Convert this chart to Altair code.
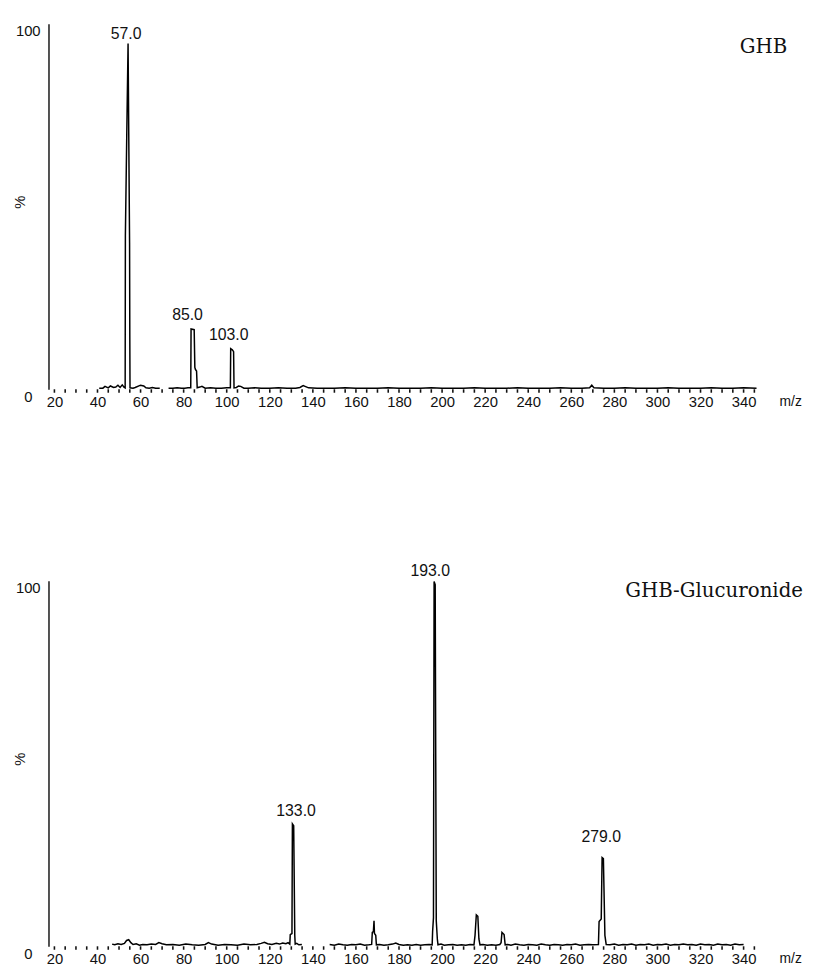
import altair as alt
import pandas as pd

# ---------------- GHB spectrum (top) ----------------
ghb_a_mz = [40.8, 42.5, 43.5, 45.0, 46.0, 47.5, 48.5, 49.5, 50.5, 51.5, 52.3, 52.85, 52.95,
            53.6, 54.2, 54.9, 55.0, 55.1, 56.5, 57.5, 59.5, 60.0, 61.5, 62.5, 64.0, 65.5, 67.0, 68.9]
ghb_a_int = [0.3, 0.3, 0.8, 0.4, 0.9, 0.5, 0.6, 1.1, 0.5, 1.2, 0.6, 0.4, 42.0,
             70.0, 94.6, 40.0, 15.0, 0.4, 0.3, 0.5, 1.0, 1.1, 0.9, 0.4, 0.3, 0.5, 0.3, 0.3]

ghb_b_mz = [73, 75, 77, 79, 80.5, 82, 83.3, 83.45, 84.9, 85.2, 85.5, 86.0, 86.3, 87.5, 88.5, 90,
            92.5, 95, 97.5, 100, 101.7, 101.85, 102.6, 103.2, 103.4, 104.5, 105.5, 106.5, 108,
            110, 113, 116, 120, 124, 128, 132, 134, 135.5, 138, 142, 146, 150, 155, 160, 165,
            170, 175, 180, 185, 190, 195, 200, 205, 210, 215, 220, 225, 230, 235, 240, 245, 250,
            255, 260, 265, 268.5, 269.5, 270.5, 275, 280, 285, 290, 295, 300, 305, 310, 315, 320,
            325, 330, 335, 340, 346]
ghb_b_int = [0.3, 0.3, 0.4, 0.3, 0.3, 0.4, 0.4, 16.5, 16.3, 6.0, 5.4, 5.0, 0.4, 0.6, 0.8, 0.3,
             0.4, 0.3, 0.3, 0.4, 0.4, 11.1, 10.8, 10.3, 0.4, 0.5, 0.9, 0.8, 0.3,
             0.3, 0.4, 0.3, 0.3, 0.4, 0.3, 0.3, 0.5, 1.0, 0.4, 0.3, 0.3, 0.3, 0.4, 0.3, 0.3,
             0.3, 0.4, 0.3, 0.3, 0.3, 0.4, 0.3, 0.3, 0.3, 0.4, 0.3, 0.3, 0.3, 0.4, 0.3, 0.3, 0.3,
             0.4, 0.3, 0.3, 0.4, 1.1, 0.4, 0.3, 0.3, 0.4, 0.3, 0.3, 0.3, 0.4, 0.3, 0.3, 0.3,
             0.4, 0.3, 0.3, 0.4, 0.3]

ghb_lbl = ["57.0", "85.0", "103.0"]
ghb_lbl_mz = [53.3, 81.8, 100.9]
ghb_lbl_int = [95.9, 18.9, 13.5]

# ---------------- GHB-Glucuronide spectrum (bottom) ----------------
glu_a_mz = [46.8, 48, 49.5, 51, 52.5, 53.5, 54.5, 55.5, 56.5, 58, 59.5, 61, 63, 65, 67, 68.5,
            70, 72, 75, 78, 81, 84, 87, 90, 91.5, 93, 96, 99, 102, 105, 108, 111, 114, 116,
            117.5, 119, 121, 123, 124.5, 126, 127.5, 128.5, 129.3, 129.5, 130.3, 130.5, 131.1,
            131.6, 131.8, 132.5, 133.5, 134.9]
glu_a_int = [0.6, 0.4, 0.7, 0.5, 0.8, 1.6, 1.8, 1.0, 0.5, 0.7, 0.3, 0.5, 0.4, 0.6, 0.5, 1.0,
             0.7, 0.4, 0.5, 0.3, 0.6, 0.4, 0.3, 0.5, 1.0, 0.6, 0.3, 0.5, 0.4, 0.3, 0.6, 0.4, 0.5,
             0.8, 1.1, 0.7, 0.5, 0.8, 0.6, 0.9, 0.7, 1.0, 0.6, 3.2, 3.5, 33.5, 33.0, 3.0, 0.6,
             0.8, 0.4, 0.5]

glu_b_mz = [147.8, 150, 152, 154, 156, 158, 160, 162, 164, 166, 167.3, 167.6, 168.1, 168.4,
            168.6, 169.2, 169.5, 171, 173, 175, 177, 178.5, 180, 182, 184, 186, 188, 190, 192,
            194, 195.4, 195.6, 196.0, 196.3, 196.8, 197.3, 197.8, 198.1, 199.5, 201, 203, 205,
            207, 209, 211, 213, 214.8, 215.3, 215.9, 216.6, 217.1, 217.6, 219, 221, 223, 225,
            226.8, 227.4, 227.8, 228.8, 229.3, 230.5, 232, 234, 236, 238, 240, 242, 244, 246,
            248, 250, 252, 254, 256, 258, 260, 262, 264, 266, 268, 270, 272.6, 272.9, 273.9,
            274.3, 274.9, 275.6, 276.2, 278, 280, 282, 284, 286, 288, 290, 292, 294, 296, 298,
            300, 302, 304, 306, 308, 310, 312, 314, 316, 318, 320, 322, 324, 326, 328, 330, 332,
            334, 336, 338, 340, 342, 345]
glu_b_int = [0.5, 0.3, 0.6, 0.4, 0.3, 0.5, 0.4, 0.6, 0.3, 0.4, 0.5, 3.8, 4.0, 7.0,
             3.5, 3.0, 0.4, 0.5, 0.3, 0.4, 0.6, 0.9, 0.5, 0.3, 0.4, 0.3, 0.5, 0.3, 0.4,
             0.5, 0.4, 4.0, 7.8, 99.8, 99.0, 7.0, 2.0, 0.4, 0.6, 0.3, 0.4, 0.5,
             0.3, 0.4, 0.3, 0.5, 0.4, 3.0, 8.6, 8.2, 2.0, 0.4, 0.5, 0.3, 0.4, 0.3,
             0.5, 1.0, 3.8, 3.2, 0.4, 0.5, 0.3, 0.6, 0.4, 0.3, 0.5, 0.4, 0.3, 0.6,
             0.4, 0.3, 0.5, 0.4, 0.3, 0.5, 0.4, 0.6, 0.3, 0.4, 0.5, 0.4, 0.5, 6.8, 7.5,
             24.3, 24.0, 3.0, 0.5, 0.4, 0.6, 0.3, 0.5, 0.4, 0.6, 0.3, 0.5, 0.4, 0.6, 0.3,
             0.5, 0.4, 0.6, 0.3, 0.5, 0.4, 0.6, 0.4, 0.5, 0.3, 0.6, 0.4, 0.5, 0.3, 0.6, 0.4,
             0.5, 0.3, 0.6, 0.4, 0.5]

glu_lbl = ["133.0", "193.0", "279.0"]
glu_lbl_mz = [132.2, 194.5, 273.9]
glu_lbl_int = [35.7, 101.4, 28.6]

# x-axis tick positions (m/z)
tick_mz = [20 + 5 * k for k in range(66)]

# ---------------- layout ----------------
W, H = 718, 370
XDOM = [17.25, 346.5]
SANS = "Liberation Sans"
SERIF = "DejaVu Serif"


def spectrum_df(segments):
    rows = []
    for s, (mz, inten) in enumerate(segments):
        for i, (m, v) in enumerate(zip(mz, inten)):
            rows.append({"mz": m, "int": v, "seg": s, "i": i})
    return pd.DataFrame(rows)


def panel(segments, lmz, lint, ltxt, title, title_x, title_y):
    df = spectrum_df(segments)
    xscale = alt.Scale(domain=XDOM, nice=False, zero=False)
    x = alt.X("mz:Q", scale=xscale,
              axis=alt.Axis(values=[v for v in tick_mz if v % 20 == 0], ticks=False,
                            domain=False, grid=False, labelFont=SANS,
                            labelFontSize=15, labelColor="#111", labelPadding=5,
                            labelOverlap=False, labelFlush=False, title="m/z",
                            titleFont=SANS, titleFontSize=14, titleFontWeight="normal",
                            titleColor="#111", titleX=W + 33, titleY=12,
                            titleBaseline="middle"))
    y = alt.Y("int:Q",
              scale=alt.Scale(domain=[0, 100], nice=False),
              axis=alt.Axis(values=[0, 100], ticks=False, grid=False, domain=True,
                            domainColor="#333", domainWidth=1.7, labelBaseline="top",
                            labelAlign="center", labelPadding=21, labelFont=SANS,
                            labelFontSize=15, labelColor="#111", title="%",
                            titleFont=SANS, titleFontSize=15, titleFontWeight="normal",
                            titleColor="#111", titleX=-21, titleY=H / 2 - 5))
    line = alt.Chart(df).mark_line(color="black", strokeWidth=1.5).encode(
        x=x, y=y, detail="seg:N", order="i:Q")
    tdf_ticks = pd.DataFrame({"mz": tick_mz})
    ticks = alt.Chart(tdf_ticks).mark_rule(color="#111", strokeWidth=1.6).encode(
        x=alt.X("mz:Q", scale=xscale), y=alt.value(H), y2=alt.value(H + 3.5))
    ldf = pd.DataFrame({"mz": lmz, "int": lint, "lbl": ltxt})
    labels = alt.Chart(ldf).mark_text(baseline="alphabetic", font=SANS, fontSize=16,
                                      color="#111").encode(
        x="mz:Q", y="int:Q", text="lbl:N")
    tdf = pd.DataFrame({"t": [title]})
    ttl = alt.Chart(tdf).mark_text(align="right", baseline="alphabetic", font=SERIF,
                                   fontSize=20, color="#111").encode(
        x=alt.value(title_x), y=alt.value(title_y), text="t:N")
    return alt.layer(line, ticks, labels, ttl).properties(width=W, height=H)


top = panel([(ghb_a_mz, ghb_a_int), (ghb_b_mz, ghb_b_int)],
            ghb_lbl_mz, ghb_lbl_int, ghb_lbl, "GHB", 748, 30)
bottom = panel([(glu_a_mz, glu_a_int), (glu_b_mz, glu_b_int)],
               glu_lbl_mz, glu_lbl_int, glu_lbl, "GHB-Glucuronide", 764, 16)

chart = alt.vconcat(top, bottom, spacing=194, bounds="flush").properties(
    padding={"left": 5, "top": 10, "right": 2, "bottom": 2}
).configure(background="white").configure_view(stroke=None)

chart.save("out.html", embed_options={"renderer": "svg", "actions": False})
